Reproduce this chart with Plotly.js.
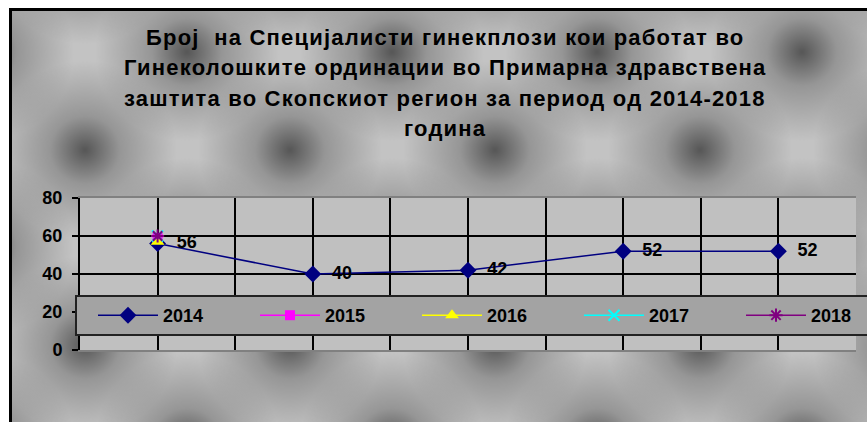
<!DOCTYPE html>
<html>
<head>
<meta charset="utf-8">
<script src="https://cdn.plot.ly/plotly-3.0.1.min.js"></script>
<style>
  html, body { margin: 0; padding: 0; background: #ffffff; overflow: hidden; }
  #wrap { position: relative; width: 867px; height: 422px; overflow: hidden; background: #fff; }
  #bg {
    position: absolute; left: 9px; top: 8px; width: 880px; height: 430px;
    border-left: 3px solid #000; border-top: 3px solid #000;
    background-color: #c3c3c3;
    background-image:
      radial-gradient(ellipse 95px 92px at center, rgba(80,80,80,0.95) 0px, rgba(120,120,120,0.6) 35px, rgba(195,195,195,0) 92px),
      radial-gradient(ellipse 95px 92px at center, rgba(80,80,80,0.95) 0px, rgba(120,120,120,0.6) 35px, rgba(195,195,195,0) 92px);
    background-size: 205px 195px, 205px 195px;
    background-position: -29.5px 41.5px, 72.5px -56.5px;
  }
  #chart { position: absolute; left: 0; top: 0; width: 1000px; height: 422px; }
</style>
</head>
<body>
<div id="wrap">
  <div id="bg"></div>
  <div id="chart"></div>
</div>
<script>
// ---- data ----
const titleLines = [
  'Број  на Специјалисти гинекплози кои работат во',
  'Гинеколошките ординации во Примарна здравствена',
  'заштита во Скопскиот регион за период од 2014-2018',
  'година'
];
const xIndex = [1, 3, 5, 7, 9];
const values2014 = [56, 40, 42, 52, 52];
const xOther = [1];
const values2015 = [59];
const values2016 = [57];
const values2017 = [60];
const values2018 = [60];
const yTicks = [0, 20, 40, 60, 80];

const fontFam = 'Arial, "Liberation Sans", sans-serif';

const traces = [
  {
    name: '2014', x: xIndex, y: values2014, type: 'scatter', mode: 'lines+markers+text',
    line: { color: '#000080', width: 1.5 },
    marker: { symbol: 'diamond', size: 13, color: '#000080' },
    text: values2014.map(v => '  ' + v), textposition: 'middle right',
    textfont: { family: fontFam, size: 18, color: '#000', weight: 'bold' },
    cliponaxis: false
  },
  {
    name: '2015', x: xOther, y: values2015, type: 'scatter', mode: 'lines+markers',
    line: { color: '#FF00FF', width: 1.5 },
    marker: { symbol: 'square', size: 10, color: '#FF00FF' }
  },
  {
    name: '2016', x: xOther, y: values2016, type: 'scatter', mode: 'lines+markers',
    line: { color: '#FFFF00', width: 1.5 },
    marker: { symbol: 'triangle-up', size: 12, color: '#FFFF00' }
  },
  {
    name: '2017', x: xOther, y: values2017, type: 'scatter', mode: 'lines+markers',
    line: { color: '#00FFFF', width: 1.5 },
    marker: { symbol: 'x-thin-open', size: 11, color: '#00FFFF', line: { color: '#00FFFF', width: 2 } }
  },
  {
    name: '2018', x: xOther, y: values2018, type: 'scatter', mode: 'lines+markers',
    line: { color: '#800080', width: 1.5 },
    marker: { symbol: 'asterisk-open', size: 11, color: '#800080', line: { color: '#800080', width: 2 } }
  }
];

const W = 1000, H = 422;
const L = 75, R = 0, T = 198, B = 72;
const gw = W - L - R, gh = H - T - B;
const plotLeft = 80, plotRight = 856;
const titleCenterX = 445;
const titleYs = [38, 68, 98, 128];

const annotations = titleLines.map((t, i) => ({
  text: '<b><span style="letter-spacing:1.2px">' + t + '</span></b>', showarrow: false,
  xref: 'paper', yref: 'paper',
  x: (titleCenterX - L) / gw, y: (H - B - titleYs[i]) / gh,
  xanchor: 'center', yanchor: 'middle',
  font: { family: fontFam, size: 22, color: '#000' }
}));

const layout = {
  width: W, height: H,
  margin: { l: L, r: R, t: T, b: B, pad: 0 },
  paper_bgcolor: 'rgba(0,0,0,0)',
  plot_bgcolor: '#c0c0c0',
  showlegend: true,
  xaxis: {
    domain: [(plotLeft - L) / gw, (plotRight - L) / gw],
    range: [0, 10], dtick: 1, tick0: 0, showticklabels: false,
    showgrid: true, gridcolor: '#000', gridwidth: 2,
    zeroline: false, showline: true, linecolor: '#808080', linewidth: 2, mirror: true,
    ticks: '', fixedrange: true
  },
  yaxis: {
    range: [0, 80], tickvals: yTicks, ticktext: yTicks.map(String),
    showgrid: true, gridcolor: '#000', gridwidth: 2,
    zeroline: false, showline: true, linecolor: '#000', linewidth: 2,
    ticks: 'outside', ticklen: 6, tickwidth: 2, tickcolor: '#000',
    ticklabelstandoff: 6,
    tickfont: { family: fontFam, size: 18, color: '#000', weight: 'bold' },
    fixedrange: true
  },
  legend: {
    orientation: 'h', x: 0, xanchor: 'left', y: (H - B - 295) / gh, yanchor: 'top',
    bgcolor: '#a3a3a3', bordercolor: '#222', borderwidth: 2,
    font: { family: fontFam, size: 18, color: '#000', weight: 'bold' },
    entrywidth: 71, entrywidthmode: 'pixels', itemwidth: 60, indentation: 16,
    traceorder: 'normal'
  },
  annotations: annotations
};

Plotly.newPlot('chart', traces, layout, { displayModeBar: false, staticPlot: true });
</script>
</body>
</html>
